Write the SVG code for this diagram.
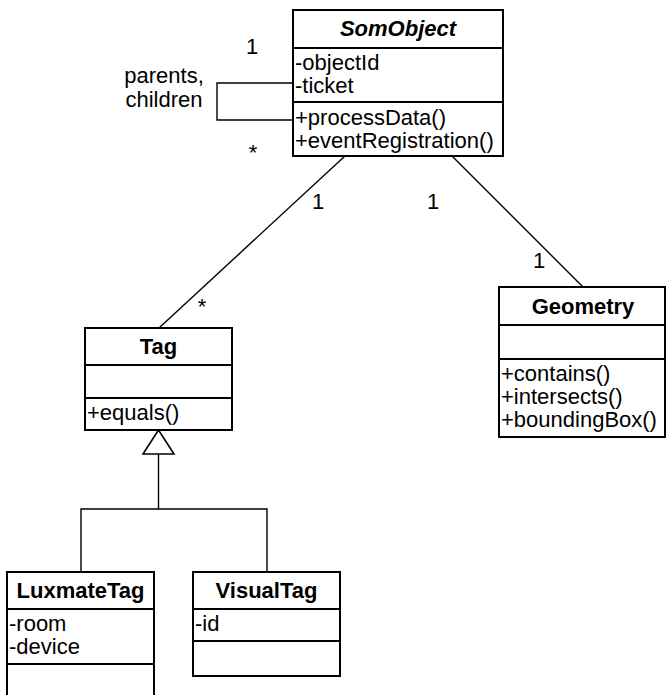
<svg xmlns="http://www.w3.org/2000/svg" width="666" height="695" viewBox="0 0 666 695">
<style>
text{font-family:"Liberation Sans",Arial,sans-serif;font-size:22px;fill:#000}
.t{font-weight:bold;text-anchor:middle}
.box{fill:#fff;stroke:#000;stroke-width:2}
.sep{stroke:#000;stroke-width:2}
.ln{fill:none;stroke:#000;stroke-width:1.4}
.m{text-anchor:middle}
</style>
<rect width="666" height="695" fill="#fff"/>
<g id="connectors">
<polyline class="ln" points="293,83 217,83 217,120 293,120"/>
<line class="ln" x1="345" y1="156" x2="159" y2="328"/>
<line class="ln" x1="452" y1="156" x2="583" y2="287"/>
<polyline class="ln" points="158.5,454 158.5,509"/>
<polyline class="ln" points="81,572 81,509 267,509 267,572"/>
<polygon points="158.5,430 143,454 174,454" fill="#fff" stroke="#000" stroke-width="1.6"/>
<text class="m" x="252" y="54">1</text>
<text class="m" x="253" y="160">*</text>
<text class="m" x="164" y="83">parents,</text>
<text class="m" x="164" y="107">children</text>
<text class="m" x="318" y="209">1</text>
<text class="m" x="433" y="209">1</text>
<text class="m" x="202" y="314">*</text>
<text class="m" x="539" y="268">1</text>
</g>
<g id="SomObject">
<rect class="box" x="293" y="10" width="210" height="146"/>
<line class="sep" x1="293" y1="48" x2="503" y2="48"/>
<line class="sep" x1="293" y1="102" x2="503" y2="102"/>
<text class="t" x="398" y="36" font-style="italic">SomObject</text>
<text x="295" y="70">-objectId</text>
<text x="295" y="93">-ticket</text>
<text x="295" y="125">+processData()</text>
<text x="295" y="148">+eventRegistration()</text>
</g>
<g id="Tag">
<rect class="box" x="85" y="328" width="147" height="102"/>
<line class="sep" x1="85" y1="365" x2="232" y2="365"/>
<line class="sep" x1="85" y1="398" x2="232" y2="398"/>
<text class="t" x="158.5" y="354">Tag</text>
<text x="87" y="420">+equals()</text>
</g>
<g id="Geometry">
<rect class="box" x="499" y="287" width="166" height="150"/>
<line class="sep" x1="499" y1="325" x2="665" y2="325"/>
<line class="sep" x1="499" y1="359" x2="665" y2="359"/>
<text class="t" x="583" y="314">Geometry</text>
<text x="501" y="381">+contains()</text>
<text x="501" y="404">+intersects()</text>
<text x="501" y="427">+boundingBox()</text>
</g>
<g id="LuxmateTag">
<rect class="box" x="7" y="572" width="147" height="130"/>
<line class="sep" x1="7" y1="609" x2="154" y2="609"/>
<line class="sep" x1="7" y1="664" x2="154" y2="664"/>
<text class="t" x="80.5" y="598">LuxmateTag</text>
<text x="9" y="631">-room</text>
<text x="9" y="654">-device</text>
</g>
<g id="VisualTag">
<rect class="box" x="193" y="572" width="147" height="104"/>
<line class="sep" x1="193" y1="609" x2="340" y2="609"/>
<line class="sep" x1="193" y1="641" x2="340" y2="641"/>
<text class="t" x="266.5" y="598">VisualTag</text>
<text x="195" y="631">-id</text>
</g>
</svg>
